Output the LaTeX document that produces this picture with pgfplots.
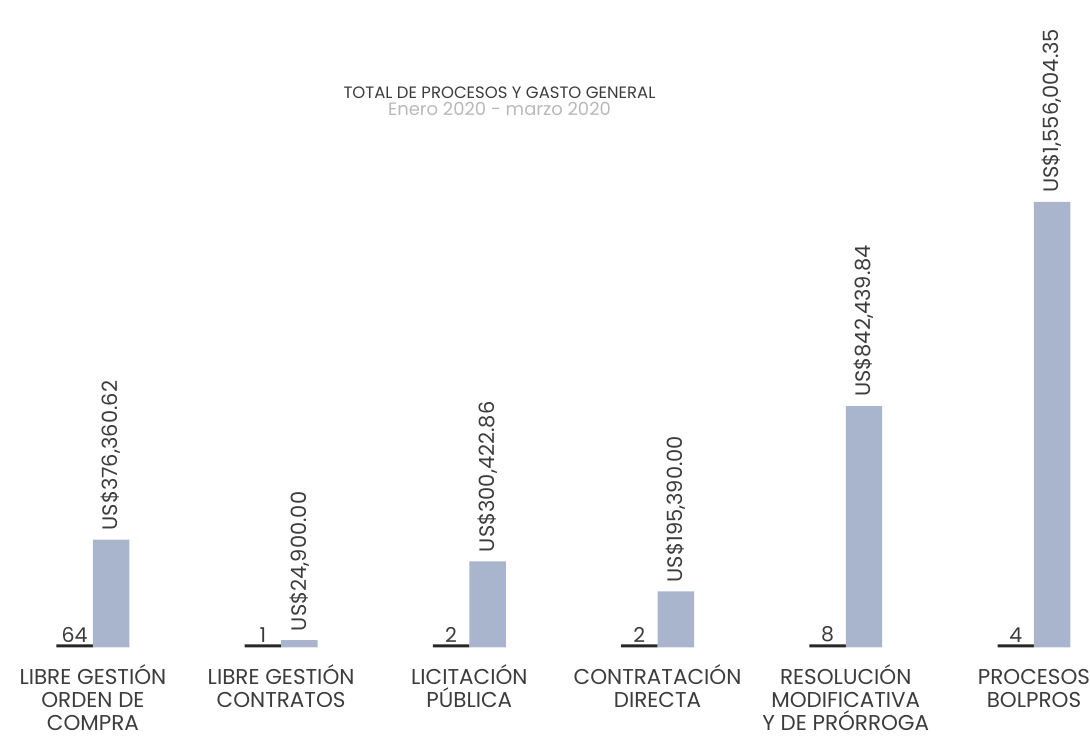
\documentclass[border=0pt]{standalone}
\usepackage{fontspec}
\setmainfont{Poppins}
\usepackage{pgfplots}
\pgfplotsset{compat=1.18}
\definecolor{barblue}{RGB}{169,181,205}
\definecolor{txt}{RGB}{60,60,60}
\definecolor{subc}{RGB}{185,185,185}
\newcommand{\lab}{\fontsize{21.5}{23}\selectfont}
\newcommand{\cat}[1]{{\renewcommand{\arraystretch}{1}\setlength{\tabcolsep}{0pt}\begin{tabular}[t]{c}#1\end{tabular}}}
\begin{document}
\begin{tikzpicture}
\begin{axis}[
  scale only axis, width=1090pt, height=746pt,
  xmin=-0.4936, xmax=5.2919, ymin=-341900, ymax=2260700,
  axis lines=none, clip=false,
  ybar=0pt, bar width=0.1937,
  point meta=explicit symbolic,
  nodes near coords,
]
\path (rel axis cs:0,0) rectangle (rel axis cs:1,1);
\addplot[fill=black!85, draw=none,
  nodes near coords style={font=\fontsize{20.5}{23}\selectfont, text=txt, anchor=south, inner sep=2pt}]
  coordinates {(0,10500)[64] (1,10500)[1] (2,10500)[2] (3,10500)[2] (4,10500)[8] (5,10500)[4]};
\addplot[fill=barblue, draw=none,
  nodes near coords style={font=\fontsize{21}{23}\selectfont, text=txt, rotate=90, anchor=west, inner xsep=9pt, inner ysep=0pt}]
  coordinates {(0,376360.62)[US\$376,360.62] (1,24900)[US\$24,900.00] (2,300422.86)[US\$300,422.86]
               (3,195390)[US\$195,390.00] (4,842439.84)[US\$842,439.84] (5,1556004.35)[US\$1,556,004.35]};
\node[font=\fontsize{16.5}{20}\selectfont, text=txt, anchor=base] at (rel axis cs:0.4587,0.868) {TOTAL DE PROCESOS Y GASTO GENERAL};
\node[font=\fontsize{18}{20}\selectfont, text=subc, anchor=base] at (rel axis cs:0.4587,0.845) {Enero 2020 - marzo 2020};
\begin{scope}[every node/.style={font=\lab, text=txt, anchor=base, inner sep=0pt}]
\node at ([yshift=-37pt]axis cs:0,0) {\cat{\smash{LIBRE GESTIÓN}\\\smash{ORDEN DE}\\\smash{COMPRA}}};
\node at ([yshift=-37pt]axis cs:1,0) {\cat{\smash{LIBRE GESTIÓN}\\\smash{CONTRATOS}}};
\node at ([yshift=-37pt]axis cs:2,0) {\cat{\smash{LICITACIÓN}\\\smash{PÚBLICA}}};
\node at ([yshift=-37pt]axis cs:3,0) {\cat{\smash{CONTRATACIÓN}\\\smash{DIRECTA}}};
\node at ([yshift=-37pt]axis cs:4,0) {\cat{\smash{RESOLUCIÓN}\\\smash{MODIFICATIVA}\\\smash{Y DE PRÓRROGA}}};
\node at ([yshift=-37pt]axis cs:5,0) {\cat{\smash{PROCESOS}\\\smash{BOLPROS}}};
\end{scope}
\end{axis}
\end{tikzpicture}
\end{document}
